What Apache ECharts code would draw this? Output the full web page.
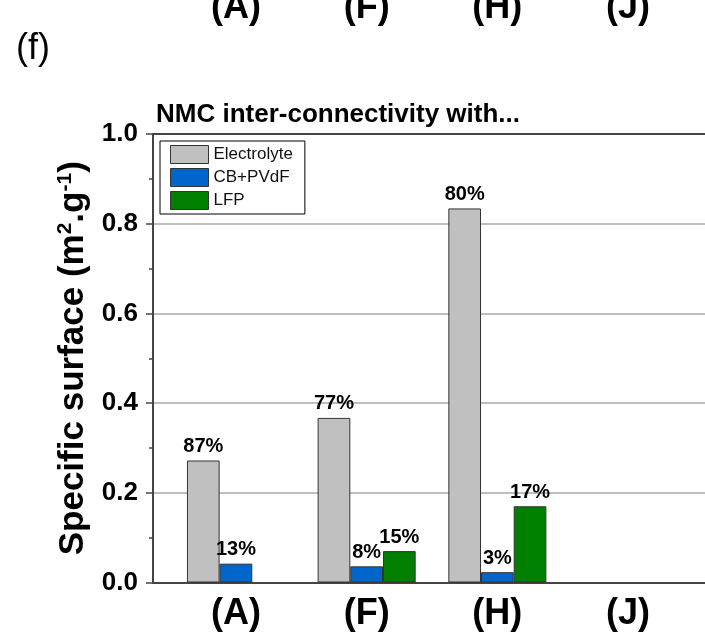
<!DOCTYPE html>
<html>
<head>
<meta charset="utf-8">
<script src="https://cdn.jsdelivr.net/npm/echarts@6/dist/echarts.min.js"></script>
<style>
  html, body { margin: 0; padding: 0; background: #fff; }
  #chart { width: 705px; height: 641px; }
</style>
</head>
<body>
<div id="chart"></div>
<script>
// Electrode samples along the x axis
const categories = ['(A)', '(F)', '(H)', '(J)'];

// Specific surface of NMC in contact with each phase (m².g⁻¹)
const electrolyte = [0.272, 0.367, 0.834, null];
const cbPvdf      = [0.042, 0.036, 0.023, null];
const lfp         = [null,  0.070, 0.170, null];

// Share of the NMC surface connected to each phase
const electrolytePct = ['87%', '77%', '80%', ''];
const cbPvdfPct      = ['13%', '8%',  '3%',  ''];
const lfpPct         = ['',    '15%', '17%', ''];

// Y axis range
const yMin = 0, yMax = 1.0, yStep = 0.2;

const FONT = '"Liberation Sans", Arial, sans-serif';

function pctLabel(pcts) {
  return {
    show: true,
    position: 'top',
    distance: 4,
    fontFamily: FONT,
    fontWeight: 'bold',
    fontSize: 20,
    color: '#000',
    formatter: p => pcts[p.dataIndex]
  };
}

const chart = echarts.init(document.getElementById('chart'), null, { renderer: 'canvas' });

chart.setOption({
  animation: false,
  backgroundColor: '#fff',
  title: [
    {
      text: '(f)', left: 11, top: 26,
      textStyle: { fontFamily: FONT, fontWeight: 'normal', fontSize: 36, color: '#000' }
    },
    {
      text: 'NMC inter-connectivity with...', left: 151, top: 97,
      textStyle: { fontFamily: FONT, fontWeight: 'bold', fontSize: 26, color: '#000' }
    }
  ],
  legend: {
    orient: 'vertical',
    left: 160, top: 141,
    padding: [4, 12, 4, 10],
    itemGap: 4,
    itemWidth: 38, itemHeight: 18,
    icon: 'rect',
    borderColor: '#000', borderWidth: 1,
    itemStyle: { borderColor: '#333', borderWidth: 1 },
    textStyle: { fontFamily: FONT, fontSize: 17, color: '#111' },
    data: ['Electrolyte', 'CB+PVdF', 'LFP']
  },
  grid: [
    // frame with the y scale and grid lines
    { left: 153, right: -5, top: 134, bottom: 58.5, outerBoundsMode: 'none' },
    // grouped bars
    { left: 170.6, width: 522.8, top: 134, bottom: 58.5, outerBoundsMode: 'none' }
  ],
  xAxis: [
    {
      gridIndex: 0, type: 'value', position: 'bottom', min: 0, max: 1,
      axisLine: { show: true, lineStyle: { color: '#444', width: 2 } },
      axisTick: { show: false }, axisLabel: { show: false }, splitLine: { show: false }
    },
    {
      gridIndex: 0, type: 'value', position: 'top', min: 0, max: 1,
      axisLine: { show: true, lineStyle: { color: '#444', width: 2 } },
      axisTick: { show: false }, axisLabel: { show: false }, splitLine: { show: false }
    },
    {
      gridIndex: 1, type: 'category', position: 'bottom', data: categories,
      axisLine: { show: false }, axisTick: { show: false },
      axisLabel: {
        margin: 14, fontFamily: FONT, fontWeight: 'bold', fontSize: 36, color: '#000'
      }
    },
    {
      // sample names of the panel above, cut by the top edge
      gridIndex: 1, type: 'category', position: 'top', data: categories,
      axisLine: { show: false }, axisTick: { show: false },
      axisLabel: {
        margin: 108, fontFamily: FONT, fontWeight: 'bold', fontSize: 36, color: '#000'
      }
    }
  ],
  yAxis: [
    {
      gridIndex: 0, type: 'value', min: yMin, max: yMax, interval: yStep,
      axisLine: { show: true, lineStyle: { color: '#444', width: 2 } },
      axisTick: { show: true, length: 7, lineStyle: { color: '#444', width: 1.5 } },
      minorTick: { show: true, splitNumber: 2, length: 4, lineStyle: { color: '#444', width: 1.5 } },
      axisLabel: {
        margin: 15, fontFamily: FONT, fontWeight: 'bold', fontSize: 26, color: '#000',
        formatter: v => v.toFixed(1)
      },
      splitLine: { show: true, lineStyle: { color: '#a8a8a8', width: 1.5 } },
      name: '{t|Specific surface (m}{s|2}{t|.g}{s|-1}{t|)}',
      nameLocation: 'middle',
      nameGap: 62,
      nameTextStyle: {
        rich: {
          t: { fontFamily: FONT, fontWeight: 'bold', fontSize: 35, color: '#000' },
          s: { fontFamily: FONT, fontWeight: 'bold', fontSize: 21, color: '#000', verticalAlign: 'top', padding: [0, 0, 15, 0] }
        }
      }
    },
    {
      gridIndex: 1, type: 'value', min: yMin, max: yMax, interval: yStep,
      show: false, splitLine: { show: false }
    }
  ],
  series: [
    {
      name: 'Electrolyte', type: 'bar', xAxisIndex: 2, yAxisIndex: 1,
      data: electrolyte, barGap: '0%', barCategoryGap: '25%',
      itemStyle: { color: '#c0c0c0', borderColor: '#333', borderWidth: 1 },
      label: pctLabel(electrolytePct)
    },
    {
      name: 'CB+PVdF', type: 'bar', xAxisIndex: 2, yAxisIndex: 1,
      data: cbPvdf, barGap: '0%', barCategoryGap: '25%',
      itemStyle: { color: '#0066cc', borderColor: '#333', borderWidth: 1 },
      label: pctLabel(cbPvdfPct)
    },
    {
      name: 'LFP', type: 'bar', xAxisIndex: 2, yAxisIndex: 1,
      data: lfp, barGap: '0%', barCategoryGap: '25%',
      itemStyle: { color: '#007f00', borderColor: '#333', borderWidth: 1 },
      label: pctLabel(lfpPct)
    }
  ]
});
</script>
</body>
</html>
